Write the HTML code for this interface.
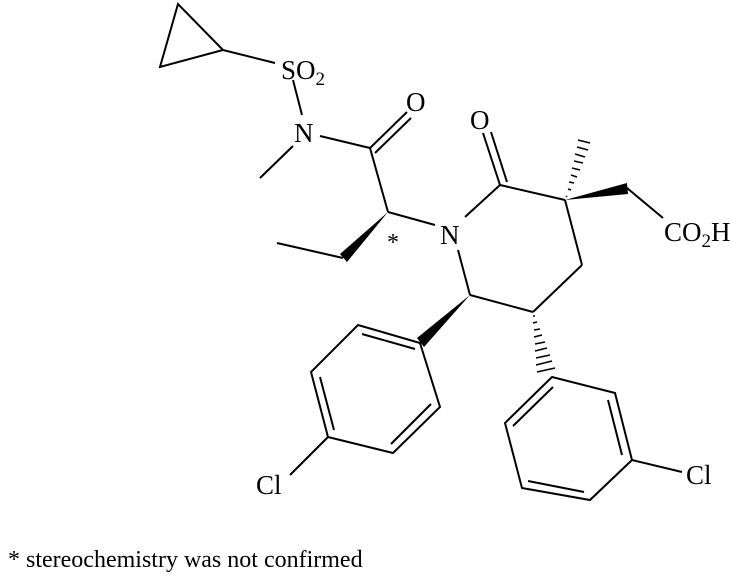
<!DOCTYPE html>
<html><head><style>body{margin:0;background:#fff}svg{display:block}text{font-family:"Liberation Serif",serif;fill:#000}</style></head><body>
<svg width="738" height="576" viewBox="0 0 738 576" xmlns="http://www.w3.org/2000/svg">
<g stroke="#000" stroke-width="2" fill="none" stroke-linecap="butt">
<polygon points="178,4 160,67 223,50"/>
<line x1="223" y1="50" x2="275" y2="63"/>
<line x1="293" y1="80" x2="302" y2="115"/>
<line x1="293" y1="146" x2="260" y2="178"/>
<line x1="320" y1="136" x2="370" y2="148"/>
<line x1="370" y1="148" x2="407" y2="112"/>
<line x1="375" y1="153" x2="411" y2="118"/>
<line x1="370" y1="148" x2="388" y2="212"/>
<line x1="388" y1="212" x2="435" y2="225"/>
<line x1="343" y1="258" x2="277" y2="243"/>
<line x1="465" y1="217" x2="500" y2="185"/>
<line x1="500" y1="185" x2="483" y2="133"/>
<line x1="507" y1="182" x2="491" y2="132"/>
<line x1="500" y1="185" x2="565" y2="200"/>
<line x1="627" y1="188" x2="663" y2="218"/>
<line x1="565" y1="200" x2="582" y2="265"/>
<line x1="582" y1="265" x2="533" y2="312"/>
<line x1="533" y1="312" x2="470" y2="295"/>
<line x1="470" y1="295" x2="458" y2="250"/>
<polygon points="420,343 358,325 311,372 328,437 393,453 440,407"/>
<line x1="362" y1="334" x2="415" y2="349"/>
<line x1="320" y1="377" x2="334" y2="430"/>
<line x1="391" y1="444" x2="431" y2="404"/>
<line x1="328" y1="437" x2="290" y2="475"/>
<polygon points="552,377 615,393 632,460 590,500 522,488 505,423"/>
<line x1="553" y1="387" x2="513" y2="426"/>
<line x1="608" y1="400" x2="622" y2="455"/>
<line x1="528" y1="481" x2="584" y2="492"/>
<line x1="632" y1="460" x2="682" y2="472"/>
</g>
<g fill="#000">
<polygon points="388,212 340,254 347,262"/>
<polygon points="565,200 627,183 628,194"/>
<polygon points="470,295 417,338 424,347"/>
</g>
<g stroke="#000" stroke-width="1.5">
<line x1="566" y1="196" x2="567" y2="197"/><line x1="568" y1="189" x2="571" y2="190"/><line x1="569" y1="182" x2="574" y2="183"/><line x1="571" y1="175" x2="577" y2="177"/><line x1="572" y1="168" x2="580" y2="170"/><line x1="574" y1="161" x2="583" y2="163"/><line x1="575" y1="154" x2="585" y2="157"/><line x1="577" y1="147" x2="588" y2="150"/><line x1="578" y1="140" x2="590" y2="143"/>
<line x1="533" y1="316" x2="535" y2="316"/><line x1="533" y1="323" x2="537" y2="322"/><line x1="534" y1="330" x2="540" y2="329"/><line x1="534" y1="337" x2="542" y2="335"/><line x1="535" y1="344" x2="545" y2="342"/><line x1="535" y1="351" x2="547" y2="348"/><line x1="536" y1="358" x2="550" y2="355"/><line x1="536" y1="365" x2="552" y2="361"/><line x1="537" y1="372" x2="555" y2="368"/>
</g>
<text x="281" y="79" font-size="27">SO<tspan font-size="19" dy="6">2</tspan></text>
<text x="294" y="142" font-size="27">N</text>
<text x="406" y="111" font-size="27">O</text>
<text x="387" y="250" font-size="24">*</text>
<text x="440" y="244" font-size="27">N</text>
<text x="470" y="129" font-size="27">O</text>
<text x="664" y="241" font-size="27">CO<tspan font-size="19" dy="6">2</tspan><tspan dy="-6">H</tspan></text>
<text x="256" y="494" font-size="27">Cl</text>
<text x="686" y="484" font-size="27">Cl</text>
<text x="8" y="567" font-size="24">* stereochemistry was not confirmed</text>
</svg>
</body></html>
